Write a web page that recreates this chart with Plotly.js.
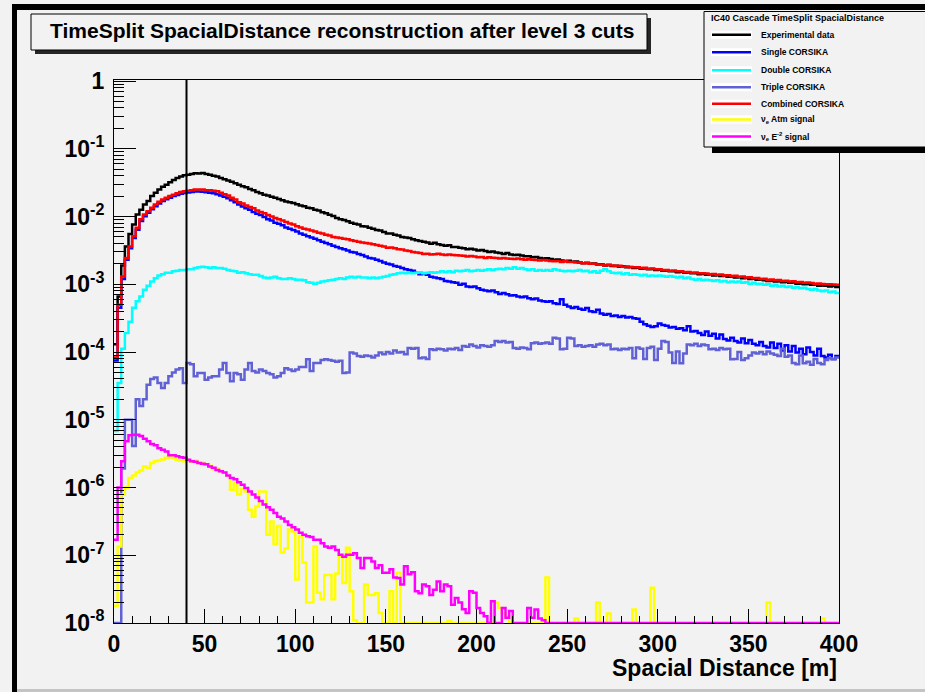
<!DOCTYPE html>
<html>
<head>
<meta charset="utf-8">
<script src="https://cdn.plot.ly/plotly-3.0.1.min.js"></script>
<style>
  html, body { margin: 0; padding: 0; background: #ffffff; }
  #chart { width: 925px; height: 692px; }
</style>
</head>
<body>
<div id="chart"></div>
<script>
// Histograms of the TimeSplit spacial distance, 200 bins of 2 m from 0 to 400 m.
const binWidth = 2;

const experimentalData = [
  1.3e-4, 6.6e-4, 1.9e-3, 3.6e-3, 5.5e-3, 7.6e-3, 1.07e-2, 1.26e-2, 1.5e-2, 1.7e-2,
  2.0e-2, 2.24e-2, 2.5e-2, 2.75e-2, 2.95e-2, 3.2e-2, 3.45e-2, 3.7e-2, 3.9e-2, 4.05e-2,
  4.15e-2, 4.25e-2, 4.35e-2, 4.3e-2, 4.4e-2, 4.25e-2, 4.15e-2, 4.0e-2, 3.9e-2, 3.7e-2,
  3.55e-2, 3.4e-2, 3.25e-2, 3.1e-2, 2.95e-2, 2.8e-2, 2.7e-2, 2.55e-2, 2.45e-2, 2.3e-2,
  2.2e-2, 2.1e-2, 2.05e-2, 1.95e-2, 1.9e-2, 1.82e-2, 1.74e-2, 1.66e-2, 1.62e-2, 1.58e-2,
  1.52e-2, 1.45e-2, 1.42e-2, 1.35e-2, 1.32e-2, 1.26e-2, 1.23e-2, 1.16e-2, 1.12e-2, 1.06e-2,
  1.02e-2, 9.5e-3, 9.1e-3, 8.9e-3, 8.5e-3, 8.1e-3, 7.8e-3, 7.6e-3, 7.2e-3, 7.1e-3,
  6.8e-3, 6.6e-3, 6.3e-3, 6.2e-3, 5.9e-3, 5.6e-3, 5.6e-3, 5.4e-3, 5.25e-3, 5.0e-3,
  4.9e-3, 4.8e-3, 4.6e-3, 4.45e-3, 4.35e-3, 4.25e-3, 4.15e-3, 3.95e-3, 4.1e-3, 3.9e-3,
  3.8e-3, 3.7e-3, 3.75e-3, 3.55e-3, 3.55e-3, 3.45e-3, 3.4e-3, 3.3e-3, 3.35e-3, 3.25e-3,
  3.15e-3, 3.2e-3, 3.1e-3, 3.0e-3, 3.05e-3, 2.95e-3, 2.9e-3, 2.8e-3, 2.9e-3, 2.75e-3,
  2.7e-3, 2.72e-3, 2.65e-3, 2.6e-3, 2.58e-3, 2.5e-3, 2.52e-3, 2.45e-3, 2.4e-3, 2.42e-3,
  2.35e-3, 2.3e-3, 2.32e-3, 2.25e-3, 2.2e-3, 2.22e-3, 2.15e-3, 2.17e-3, 2.1e-3, 2.05e-3,
  2.07e-3, 2.0e-3, 2.02e-3, 1.95e-3, 1.97e-3, 1.9e-3, 1.92e-3, 1.86e-3, 1.88e-3, 1.82e-3,
  1.84e-3, 1.78e-3, 1.8e-3, 1.74e-3, 1.76e-3, 1.7e-3, 1.72e-3, 1.66e-3, 1.68e-3, 1.62e-3,
  1.64e-3, 1.58e-3, 1.6e-3, 1.55e-3, 1.56e-3, 1.51e-3, 1.53e-3, 1.48e-3, 1.49e-3, 1.45e-3,
  1.46e-3, 1.41e-3, 1.43e-3, 1.38e-3, 1.4e-3, 1.35e-3, 1.36e-3, 1.32e-3, 1.33e-3, 1.29e-3,
  1.3e-3, 1.26e-3, 1.27e-3, 1.23e-3, 1.24e-3, 1.2e-3, 1.21e-3, 1.17e-3, 1.18e-3, 1.15e-3,
  1.12e-3, 1.13e-3, 1.1e-3, 1.11e-3, 1.07e-3, 1.08e-3, 1.05e-3, 1.06e-3, 1.02e-3, 1.03e-3,
  1.0e-3, 1.01e-3, 9.8e-4, 9.9e-4, 9.5e-4, 9.6e-4, 9.5e-4, 9.3e-4, 9.4e-4, 9.1e-4
];

const singleCorsika = [
  7.5e-5, 4.5e-4, 1.2e-3, 2.3e-3, 3.4e-3, 4.8e-3, 6.4e-3, 8.6e-3, 1.01e-2, 1.14e-2,
  1.28e-2, 1.42e-2, 1.56e-2, 1.69e-2, 1.8e-2, 1.9e-2, 2.0e-2, 2.08e-2, 2.17e-2, 2.22e-2,
  2.27e-2, 2.3e-2, 2.33e-2, 2.33e-2, 2.32e-2, 2.28e-2, 2.25e-2, 2.2e-2, 2.14e-2, 2.04e-2,
  1.95e-2, 1.86e-2, 1.74e-2, 1.62e-2, 1.51e-2, 1.41e-2, 1.32e-2, 1.26e-2, 1.17e-2, 1.1e-2,
  1.05e-2, 9.8e-3, 9.1e-3, 8.7e-3, 8.1e-3, 7.8e-3, 7.4e-3, 6.9e-3, 6.6e-3, 6.3e-3,
  6.0e-3, 5.6e-3, 5.4e-3, 5.1e-3, 4.9e-3, 4.7e-3, 4.45e-3, 4.25e-3, 4.05e-3, 3.9e-3,
  3.7e-3, 3.55e-3, 3.4e-3, 3.3e-3, 3.15e-3, 3.0e-3, 2.95e-3, 2.8e-3, 2.7e-3, 2.57e-3,
  2.45e-3, 2.4e-3, 2.3e-3, 2.2e-3, 2.1e-3, 2.0e-3, 1.95e-3, 1.86e-3, 1.82e-3, 1.74e-3,
  1.66e-3, 1.62e-3, 1.58e-3, 1.48e-3, 1.41e-3, 1.45e-3, 1.38e-3, 1.29e-3, 1.26e-3, 1.23e-3,
  1.2e-3, 1.12e-3, 1.1e-3, 1.07e-3, 1.05e-3, 9.8e-4, 1.02e-3, 9.3e-4, 9.1e-4, 9.3e-4,
  8.7e-4, 8.3e-4, 8.1e-4, 7.9e-4, 8.1e-4, 7.6e-4, 7.2e-4, 7.4e-4, 7.1e-4, 6.8e-4,
  6.9e-4, 6.6e-4, 6.45e-4, 6.6e-4, 6.2e-4, 6.0e-4, 6.15e-4, 5.75e-4, 5.6e-4, 5.5e-4,
  5.6e-4, 5.25e-4, 5.1e-4, 6.0e-4, 5.0e-4, 4.7e-4, 4.45e-4, 4.6e-4, 4.35e-4, 4.2e-4,
  4.45e-4, 4.0e-4, 3.9e-4, 4.2e-4, 3.7e-4, 3.55e-4, 3.65e-4, 3.4e-4, 3.45e-4, 3.3e-4,
  3.4e-4, 3.24e-4, 3.3e-4, 3.16e-4, 3.1e-4, 2.8e-4, 2.57e-4, 2.45e-4, 2.34e-4, 2.4e-4,
  2.63e-4, 2.5e-4, 2.45e-4, 2.3e-4, 2.34e-4, 2.2e-4, 2.24e-4, 2.1e-4, 2.4e-4, 2.0e-4,
  2.04e-4, 1.9e-4, 1.78e-4, 2.0e-4, 1.74e-4, 1.86e-4, 1.58e-4, 1.82e-4, 1.55e-4, 1.48e-4,
  1.62e-4, 1.45e-4, 1.38e-4, 1.58e-4, 1.35e-4, 1.51e-4, 1.32e-4, 1.26e-4, 1.41e-4, 1.23e-4,
  1.17e-4, 1.38e-4, 1.15e-4, 1.32e-4, 1.05e-4, 1.26e-4, 1.02e-4, 1.23e-4, 9.8e-5, 1.12e-4,
  9.3e-5, 1.17e-4, 1.0e-4, 8.9e-5, 1.12e-4, 8.7e-5, 8.3e-5, 9.1e-5, 7.9e-5, 8.7e-5
];

const doubleCorsika = [
  6.8e-6, 3.5e-5, 1.12e-4, 1.9e-4, 2.8e-4, 4.5e-4, 5.6e-4, 6.6e-4, 8.3e-4, 9.5e-4,
  1.1e-3, 1.23e-3, 1.35e-3, 1.41e-3, 1.48e-3, 1.48e-3, 1.55e-3, 1.58e-3, 1.62e-3, 1.62e-3,
  1.66e-3, 1.66e-3, 1.74e-3, 1.78e-3, 1.82e-3, 1.78e-3, 1.74e-3, 1.78e-3, 1.74e-3, 1.74e-3,
  1.7e-3, 1.62e-3, 1.58e-3, 1.55e-3, 1.48e-3, 1.51e-3, 1.45e-3, 1.41e-3, 1.38e-3, 1.38e-3,
  1.32e-3, 1.26e-3, 1.23e-3, 1.26e-3, 1.29e-3, 1.23e-3, 1.2e-3, 1.2e-3, 1.23e-3, 1.2e-3,
  1.17e-3, 1.17e-3, 1.15e-3, 1.07e-3, 1.05e-3, 1.02e-3, 1.05e-3, 1.1e-3, 1.12e-3, 1.15e-3,
  1.17e-3, 1.2e-3, 1.23e-3, 1.2e-3, 1.26e-3, 1.29e-3, 1.26e-3, 1.29e-3, 1.26e-3, 1.26e-3,
  1.23e-3, 1.26e-3, 1.23e-3, 1.26e-3, 1.29e-3, 1.32e-3, 1.38e-3, 1.41e-3, 1.45e-3, 1.48e-3,
  1.45e-3, 1.48e-3, 1.45e-3, 1.48e-3, 1.51e-3, 1.45e-3, 1.48e-3, 1.51e-3, 1.48e-3, 1.51e-3,
  1.55e-3, 1.51e-3, 1.55e-3, 1.51e-3, 1.58e-3, 1.55e-3, 1.58e-3, 1.62e-3, 1.55e-3, 1.58e-3,
  1.62e-3, 1.58e-3, 1.62e-3, 1.66e-3, 1.62e-3, 1.66e-3, 1.7e-3, 1.66e-3, 1.74e-3, 1.7e-3,
  1.78e-3, 1.7e-3, 1.74e-3, 1.66e-3, 1.62e-3, 1.66e-3, 1.58e-3, 1.62e-3, 1.58e-3, 1.62e-3,
  1.58e-3, 1.66e-3, 1.62e-3, 1.58e-3, 1.55e-3, 1.58e-3, 1.55e-3, 1.58e-3, 1.62e-3, 1.55e-3,
  1.58e-3, 1.51e-3, 1.55e-3, 1.48e-3, 1.58e-3, 1.66e-3, 1.55e-3, 1.48e-3, 1.45e-3, 1.48e-3,
  1.41e-3, 1.45e-3, 1.38e-3, 1.41e-3, 1.38e-3, 1.35e-3, 1.38e-3, 1.32e-3, 1.35e-3, 1.32e-3,
  1.35e-3, 1.32e-3, 1.29e-3, 1.32e-3, 1.29e-3, 1.26e-3, 1.29e-3, 1.23e-3, 1.26e-3, 1.2e-3,
  1.17e-3, 1.2e-3, 1.15e-3, 1.17e-3, 1.15e-3, 1.12e-3, 1.15e-3, 1.1e-3, 1.12e-3, 1.07e-3,
  1.1e-3, 1.07e-3, 1.1e-3, 1.05e-3, 1.07e-3, 1.02e-3, 1.05e-3, 1.0e-3, 1.02e-3, 9.8e-4,
  1.0e-3, 9.5e-4, 9.8e-4, 9.3e-4, 9.5e-4, 9.1e-4, 9.3e-4, 8.9e-4, 9.1e-4, 8.7e-4,
  8.9e-4, 8.5e-4, 8.3e-4, 8.5e-4, 8.1e-4, 7.9e-4, 8.1e-4, 7.6e-4, 7.8e-4, 7.4e-4
];

const tripleCorsika = [
  0, 0, 1.9e-6, 1.0e-5, 1.0e-5, 4.1e-6, 2.0e-5, 1.6e-5, 2.0e-5, 3.3e-5,
  4.0e-5, 4.2e-5, 3.5e-5, 2.95e-5, 3.5e-5, 4.4e-5, 5.0e-5, 5.5e-5, 5.75e-5, 3.5e-5,
  6.9e-5, 6.6e-5, 4.4e-5, 4.9e-5, 4.9e-5, 3.9e-5, 4.2e-5, 4.4e-5, 4.4e-5, 5.5e-5,
  6.9e-5, 4.9e-5, 3.7e-5, 4.9e-5, 4.7e-5, 3.9e-5, 5.5e-5, 6.9e-5, 5.25e-5, 5.0e-5,
  5.5e-5, 5.25e-5, 4.9e-5, 4.7e-5, 4.2e-5, 4.4e-5, 4.9e-5, 5.75e-5, 5.5e-5, 5.25e-5,
  5.5e-5, 6.0e-5, 6.0e-5, 7.8e-5, 5.25e-5, 6.9e-5, 6.9e-5, 7.6e-5, 7.8e-5, 7.6e-5,
  7.4e-5, 7.2e-5, 7.4e-5, 4.9e-5, 5.0e-5, 9.8e-5, 9.5e-5, 8.7e-5, 8.5e-5, 8.9e-5,
  8.7e-5, 8.3e-5, 8.9e-5, 9.8e-5, 9.3e-5, 1.0e-4, 9.5e-5, 1.05e-4, 9.8e-5, 1.0e-4,
  9.3e-5, 1.15e-4, 1.12e-4, 1.15e-4, 8.1e-5, 8.3e-5, 7.9e-5, 1.1e-4, 1.07e-4, 1.12e-4,
  1.1e-4, 1.05e-4, 1.12e-4, 1.1e-4, 1.15e-4, 1.07e-4, 1.23e-4, 1.2e-4, 1.29e-4, 1.23e-4,
  1.17e-4, 1.26e-4, 1.23e-4, 1.2e-4, 1.26e-4, 1.45e-4, 1.41e-4, 1.45e-4, 1.38e-4, 1.41e-4,
  1.15e-4, 1.12e-4, 1.17e-4, 1.15e-4, 1.1e-4, 1.35e-4, 1.38e-4, 1.32e-4, 1.35e-4, 1.38e-4,
  1.32e-4, 1.62e-4, 1.58e-4, 1.1e-4, 1.12e-4, 1.62e-4, 1.58e-4, 1.23e-4, 1.26e-4, 1.2e-4,
  1.23e-4, 1.26e-4, 1.2e-4, 1.29e-4, 1.32e-4, 1.26e-4, 1.29e-4, 1.1e-4, 1.12e-4, 1.07e-4,
  1.12e-4, 1.1e-4, 1.15e-4, 8.1e-5, 1.17e-4, 1.12e-4, 7.9e-5, 1.15e-4, 1.2e-4, 7.6e-5,
  1.12e-4, 1.45e-4, 1.41e-4, 9.8e-5, 6.9e-5, 1.02e-4, 6.8e-5, 9.5e-5, 1.29e-4, 1.26e-4,
  1.32e-4, 1.23e-4, 1.29e-4, 1.26e-4, 1.1e-4, 1.12e-4, 1.07e-4, 1.15e-4, 1.1e-4, 1.12e-4,
  7.8e-5, 7.9e-5, 1.0e-4, 7.6e-5, 8.1e-5, 8.9e-5, 9.8e-5, 9.5e-5, 1.0e-4, 9.3e-5,
  1.02e-4, 9.5e-5, 9.1e-5, 8.7e-5, 1.12e-4, 8.5e-5, 8.9e-5, 6.9e-5, 6.6e-5, 8.9e-5,
  6.8e-5, 7.2e-5, 6.5e-5, 7.9e-5, 6.9e-5, 6.6e-5, 7.6e-5, 8.1e-5, 7.8e-5, 8.3e-5
];

const combinedCorsika = [
  8.3e-5, 5.0e-4, 1.3e-3, 2.45e-3, 3.6e-3, 5.1e-3, 6.8e-3, 9.1e-3, 1.07e-2, 1.2e-2,
  1.35e-2, 1.5e-2, 1.65e-2, 1.78e-2, 1.9e-2, 2.0e-2, 2.1e-2, 2.2e-2, 2.3e-2, 2.35e-2,
  2.4e-2, 2.45e-2, 2.5e-2, 2.5e-2, 2.5e-2, 2.45e-2, 2.45e-2, 2.4e-2, 2.35e-2, 2.24e-2,
  2.14e-2, 2.04e-2, 1.9e-2, 1.78e-2, 1.62e-2, 1.55e-2, 1.45e-2, 1.38e-2, 1.32e-2, 1.23e-2,
  1.17e-2, 1.12e-2, 1.05e-2, 1.0e-2, 9.5e-3, 9.1e-3, 8.7e-3, 8.3e-3, 7.9e-3, 7.6e-3,
  7.2e-3, 6.9e-3, 6.6e-3, 6.45e-3, 6.2e-3, 6.0e-3, 5.75e-3, 5.6e-3, 5.4e-3, 5.25e-3,
  5.0e-3, 4.9e-3, 4.8e-3, 4.7e-3, 4.6e-3, 4.45e-3, 4.35e-3, 4.25e-3, 4.15e-3, 4.05e-3,
  4.0e-3, 3.9e-3, 3.8e-3, 3.7e-3, 3.6e-3, 3.45e-3, 3.48e-3, 3.4e-3, 3.3e-3, 3.25e-3,
  3.15e-3, 3.1e-3, 3.0e-3, 2.95e-3, 2.9e-3, 2.8e-3, 2.82e-3, 2.75e-3, 2.77e-3, 2.82e-3,
  2.75e-3, 2.7e-3, 2.76e-3, 2.7e-3, 2.68e-3, 2.65e-3, 2.63e-3, 2.57e-3, 2.62e-3, 2.57e-3,
  2.5e-3, 2.52e-3, 2.45e-3, 2.5e-3, 2.46e-3, 2.45e-3, 2.4e-3, 2.45e-3, 2.4e-3, 2.38e-3,
  2.35e-3, 2.39e-3, 2.34e-3, 2.3e-3, 2.34e-3, 2.3e-3, 2.29e-3, 2.24e-3, 2.28e-3, 2.24e-3,
  2.2e-3, 2.19e-3, 2.2e-3, 2.14e-3, 2.18e-3, 2.14e-3, 2.13e-3, 2.1e-3, 2.09e-3, 2.04e-3,
  2.05e-3, 2.0e-3, 2.01e-3, 1.95e-3, 1.96e-3, 1.9e-3, 1.94e-3, 1.9e-3, 1.86e-3, 1.87e-3,
  1.82e-3, 1.83e-3, 1.78e-3, 1.79e-3, 1.78e-3, 1.74e-3, 1.75e-3, 1.7e-3, 1.71e-3, 1.66e-3,
  1.67e-3, 1.62e-3, 1.63e-3, 1.58e-3, 1.59e-3, 1.55e-3, 1.56e-3, 1.51e-3, 1.52e-3, 1.48e-3,
  1.49e-3, 1.45e-3, 1.46e-3, 1.44e-3, 1.41e-3, 1.42e-3, 1.38e-3, 1.39e-3, 1.35e-3, 1.36e-3,
  1.32e-3, 1.33e-3, 1.29e-3, 1.3e-3, 1.26e-3, 1.27e-3, 1.23e-3, 1.24e-3, 1.2e-3, 1.21e-3,
  1.17e-3, 1.18e-3, 1.15e-3, 1.16e-3, 1.12e-3, 1.13e-3, 1.1e-3, 1.11e-3, 1.07e-3, 1.08e-3,
  1.05e-3, 1.06e-3, 1.04e-3, 1.02e-3, 1.03e-3, 1.01e-3, 1.0e-3, 1.0e-3, 9.9e-4, 9.8e-4
];

const nueAtmSignal = [
  1.8e-8, 1.35e-7, 7.9e-7, 1.0e-6, 1.38e-6, 1.5e-6, 1.66e-6, 1.78e-6, 2.04e-6, 1.95e-6,
  2.3e-6, 2.45e-6, 2.5e-6, 2.6e-6, 2.75e-6, 2.8e-6, 2.75e-6, 2.57e-6, 2.5e-6, 2.45e-6,
  2.5e-6, 2.4e-6, 2.5e-6, 2.3e-6, 2.34e-6, 2.2e-6, 2.1e-6, 1.86e-6, 1.9e-6, 1.74e-6,
  1.66e-6, 1.48e-6, 9.3e-7, 1.2e-6, 7.9e-7, 9.5e-7, 8.7e-7, 4.7e-7, 3.7e-7, 5.25e-7,
  8.7e-7, 8.7e-7, 2.0e-7, 3.16e-7, 1.45e-7, 2.7e-7, 1.1e-7, 1.26e-7, 2.4e-7, 2.24e-7,
  4.4e-8, 1.9e-7, 7.8e-8, 2.0e-8, 2.0e-8, 1.35e-7, 2.8e-8, 2.24e-8, 5.1e-8, 5.1e-8,
  2.24e-8, 5.4e-8, 9.5e-8, 3.9e-8, 1.29e-7, 2.95e-8, 1.1e-8, 0, 0, 3.7e-8,
  2.6e-8, 2.6e-8, 2.75e-8, 1.4e-8, 0, 0, 2.95e-8, 0, 5.5e-8, 0,
  0, 0, 0, 0, 0, 0, 0, 0, 0, 0,
  0, 0, 1.07e-8, 0, 0, 0, 0, 0, 0, 0,
  0, 0, 0, 0, 0, 2.0e-8, 1.66e-8, 1.4e-8, 1.26e-8, 0,
  0, 0, 0, 0, 0, 0, 0, 0, 0, 4.7e-8,
  0, 0, 0, 0, 0, 0, 0, 1.17e-8, 0, 0,
  0, 0, 0, 2.0e-8, 0, 0, 1.38e-8, 0, 0, 0,
  0, 0, 0, 1.58e-8, 0, 0, 0, 0, 3.3e-8, 0,
  0, 0, 0, 0, 0, 0, 0, 0, 0, 0,
  0, 0, 0, 0, 0, 0, 0, 0, 0, 0,
  0, 0, 0, 0, 0, 0, 0, 0, 0, 0,
  2.0e-8, 0, 0, 0, 0, 0, 0, 0, 0, 0,
  0, 0, 0, 0, 0, 1.17e-8, 0, 0, 0, 0
];

const nueE2Signal = [
  1.7e-7, 1.0e-6, 2.45e-6, 4.8e-6, 5.9e-6, 6.0e-6, 6.0e-6, 5.75e-6, 5.25e-6, 4.8e-6,
  4.4e-6, 4.2e-6, 3.8e-6, 3.6e-6, 3.4e-6, 3.0e-6, 3.0e-6, 2.9e-6, 2.8e-6, 2.75e-6,
  2.57e-6, 2.45e-6, 2.4e-6, 2.3e-6, 2.24e-6, 2.2e-6, 2.04e-6, 1.95e-6, 1.82e-6, 1.74e-6,
  1.66e-6, 1.51e-6, 1.38e-6, 1.32e-6, 1.2e-6, 1.1e-6, 9.8e-7, 8.7e-7, 7.9e-7, 7.1e-7,
  6.3e-7, 5.6e-7, 5.1e-7, 4.7e-7, 4.2e-7, 3.7e-7, 3.5e-7, 3.16e-7, 2.8e-7, 2.6e-7,
  2.4e-7, 2.14e-7, 2.0e-7, 1.9e-7, 1.86e-7, 1.7e-7, 1.7e-7, 1.51e-7, 1.35e-7, 1.29e-7,
  1.35e-7, 1.2e-7, 1.02e-7, 9.5e-8, 1.02e-7, 1.02e-7, 1.07e-7, 9.1e-8, 6.5e-8, 9.1e-8,
  9.1e-8, 8.1e-8, 6.5e-8, 7.1e-8, 5.5e-8, 5.5e-8, 6.2e-8, 4.7e-8, 4.6e-8, 3.7e-8,
  6.9e-8, 5.25e-8, 5.6e-8, 2.95e-8, 2.75e-8, 3.7e-8, 3.5e-8, 2.6e-8, 3.1e-8, 4.1e-8,
  2.95e-8, 3.7e-8, 3.5e-8, 1.86e-8, 2.34e-8, 2.0e-8, 1.6e-8, 1.4e-8, 2.95e-8, 2.8e-8,
  1.66e-8, 1.4e-8, 1.26e-8, 0, 2.1e-8, 0, 0, 1.66e-8, 1.2e-8, 1.5e-8,
  0, 0, 0, 0, 1.66e-8, 1.2e-8, 1.58e-8, 1.17e-8, 1.1e-8, 0,
  0, 0, 0, 0, 0, 0, 0, 0, 0, 0,
  0, 0, 0, 0, 0, 0, 0, 0, 0, 0,
  0, 0, 0, 0, 0, 0, 0, 0, 0, 0,
  0, 0, 0, 0, 0, 0, 0, 0, 0, 0,
  0, 0, 0, 0, 0, 0, 0, 0, 0, 0,
  0, 0, 0, 0, 0, 0, 0, 0, 0, 0,
  0, 0, 0, 0, 0, 0, 0, 0, 0, 0,
  0, 0, 0, 0, 0, 0, 0, 0, 0, 0
];

const legendLabels = [
  'Experimental data', 'Single CORSIKA', 'Double CORSIKA', 'Triple CORSIKA',
  'Combined CORSIKA', 'ν<sub>e</sub> Atm signal', 'ν<sub>e</sub> E<sup>-2</sup> signal'
];
const seriesColors = ['#000000', '#0000ff', '#00ffff', '#6161d6', '#ff0000', '#ffff00', '#ff00ff'];
const seriesValues = [experimentalData, singleCorsika, doubleCorsika, tripleCorsika,
                      combinedCorsika, nueAtmSignal, nueE2Signal];

const cutPosition = 40;
const chartTitle = 'TimeSplit SpacialDistance reconstruction after level 3 cuts';
const legendTitle = 'IC40 Cascade TimeSplit SpacialDistance';
const xAxisTitle = 'Spacial Distance [m]';

const yTickValues = [1e-8, 1e-7, 1e-6, 1e-5, 1e-4, 1e-3, 1e-2, 1e-1, 1];
const yTickLabels = ['10<sup>-8</sup>', '10<sup>-7</sup>', '10<sup>-6</sup>', '10<sup>-5</sup>',
  '10<sup>-4</sup>', '10<sup>-3</sup>', '10<sup>-2</sup>', '10<sup>-1</sup>', '1'];

// Empty bins sit on the bottom of the log frame, as ROOT draws them.
const axisFloor = 1e-8;

function histogramTrace(values, color) {
  const x = [], y = [];
  values.forEach((v, i) => {
    x.push(i * binWidth);
    y.push(v > axisFloor ? v : axisFloor);
  });
  x.push(values.length * binWidth);
  y.push(y[y.length - 1]);
  return {
    type: 'scatter', mode: 'lines', x: x, y: y,
    line: { shape: 'hv', color: color, width: 2.5 },
    hoverinfo: 'skip', showlegend: false
  };
}

const traces = seriesValues.map((vals, k) => histogramTrace(vals, seriesColors[k]));

// Minor ticks on the log axis at 2..9 of every decade.
const yMinorTicks = [];
for (let e = -8; e < 0; e++) {
  for (let m = 2; m <= 9; m++) yMinorTicks.push(m * Math.pow(10, e));
}

// Frame geometry in pixels, used to place the boxes drawn around the plot.
const L = 114, T = 80, W = 725, H = 543;
const px = v => (v - L) / W;
const py = v => (T + H - v) / H;

const bg = '#f2f2f2';
const font = 'Liberation Sans, Arial, Helvetica, sans-serif';

const shapes = [
  // canvas border and background
  { type: 'rect', xref: 'paper', yref: 'paper', x0: px(12), x1: px(940), y0: py(4), y1: py(700),
    fillcolor: '#000000', line: { width: 0 }, layer: 'below' },
  { type: 'rect', xref: 'paper', yref: 'paper', x0: px(17), x1: px(940), y0: py(10), y1: py(689),
    fillcolor: bg, line: { width: 0 }, layer: 'below' },
  { type: 'rect', xref: 'paper', yref: 'paper', x0: px(17), x1: px(940), y0: py(689), y1: py(700),
    fillcolor: '#c4c4c4', line: { width: 0 }, layer: 'below' },
  // title box with its shadow
  { type: 'rect', xref: 'paper', yref: 'paper', x0: px(35), x1: px(651), y0: py(18), y1: py(54),
    fillcolor: '#262626', line: { width: 0 }, layer: 'above' },
  { type: 'rect', xref: 'paper', yref: 'paper', x0: px(31), x1: px(647), y0: py(14), y1: py(50),
    fillcolor: bg, line: { width: 1, color: '#000000' }, layer: 'above' },
  // legend box with its shadow
  { type: 'rect', xref: 'paper', yref: 'paper', x0: px(712), x1: px(940), y0: py(16), y1: py(153),
    fillcolor: '#000000', line: { width: 0 }, layer: 'above' },
  { type: 'rect', xref: 'paper', yref: 'paper', x0: px(704), x1: px(940), y0: py(11.5), y1: py(147),
    fillcolor: bg, line: { width: 1, color: '#000000' }, layer: 'above' },
  // cut line
  { type: 'line', xref: 'x', yref: 'paper', x0: cutPosition, x1: cutPosition, y0: 0, y1: 1,
    line: { color: '#000000', width: 2 }, layer: 'above' }
];

const annotations = [
  { xref: 'paper', yref: 'paper', x: px(342), y: py(30), xanchor: 'center', yanchor: 'middle',
    text: '<b>' + chartTitle + '</b>', showarrow: false,
    font: { family: font, size: 21, color: '#000000' } },
  { xref: 'paper', yref: 'paper', x: px(839), y: py(668), xanchor: 'right', yanchor: 'middle',
    text: '<b>' + xAxisTitle + '</b>', showarrow: false,
    font: { family: font, size: 23, color: '#000000' } },
  { xref: 'paper', yref: 'paper', x: px(709), y: py(17.5), xanchor: 'left', yanchor: 'middle',
    text: '<b>' + legendTitle + '</b>', showarrow: false,
    font: { family: font, size: 9, color: '#000000' } }
];

const legendRows = [34.7, 52.3, 70.3, 87.3, 103.7, 119.5, 136.5];
legendLabels.forEach((label, k) => {
  const yc = legendRows[k];
  shapes.push({ type: 'rect', xref: 'paper', yref: 'paper', x0: px(711), x1: px(752),
    y0: py(yc - 4), y1: py(yc + 4), fillcolor: '#ffffff', line: { width: 0 }, layer: 'above' });
  shapes.push({ type: 'line', xref: 'paper', yref: 'paper', x0: px(712), x1: px(751),
    y0: py(yc), y1: py(yc), line: { color: seriesColors[k], width: 2.5 }, layer: 'above' });
  annotations.push({ xref: 'paper', yref: 'paper', x: px(759), y: py(yc), xanchor: 'left',
    yanchor: 'middle', text: '<b>' + label + '</b>', showarrow: false,
    font: { family: font, size: 8.5, color: '#000000' } });
});

const layout = {
  width: 925, height: 692,
  margin: { l: L, r: 925 - L - W, t: T, b: 692 - T - H, pad: 0 },
  paper_bgcolor: bg, plot_bgcolor: bg,
  showlegend: false,
  font: { family: font, color: '#000000' },
  xaxis: {
    range: [0, 400], tickmode: 'linear', tick0: 0, dtick: 50,
    ticks: 'inside', ticklen: 14, tickwidth: 1, tickcolor: '#000000',
    minor: { tickmode: 'linear', tick0: 0, dtick: 10, ticks: 'inside', ticklen: 7,
             tickwidth: 1, tickcolor: '#000000', showgrid: false },
    showline: true, mirror: true, linecolor: '#000000', linewidth: 1,
    showgrid: false, zeroline: false, ticklabelstandoff: 0,
    tickfont: { family: font, size: 23, color: '#000000', weight: 'bold' }
  },
  yaxis: {
    type: 'log', range: [-8, 0.015],
    tickmode: 'array', tickvals: yTickValues, ticktext: yTickLabels,
    ticks: 'inside', ticklen: 22, tickwidth: 1, tickcolor: '#000000',
    minor: { tickmode: 'array', tickvals: yMinorTicks, ticks: 'inside', ticklen: 10,
             tickwidth: 1, tickcolor: '#000000', showgrid: false },
    showline: true, mirror: true, linecolor: '#000000', linewidth: 1,
    showgrid: false, zeroline: false, ticklabelstandoff: 4,
    tickfont: { family: font, size: 23, color: '#000000', weight: 'bold' }
  },
  shapes: shapes,
  annotations: annotations
};

Plotly.newPlot('chart', traces, layout, { displayModeBar: false, staticPlot: true });
</script>
</body>
</html>
